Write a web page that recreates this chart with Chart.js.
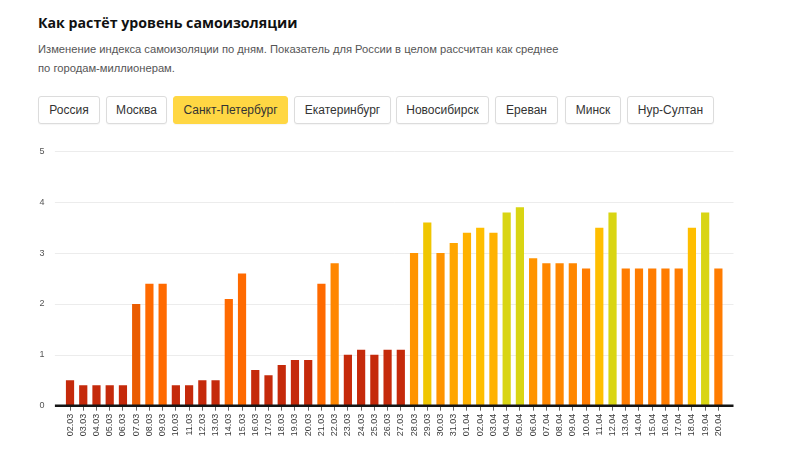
<!DOCTYPE html>
<html lang="ru">
<head>
<meta charset="utf-8">
<script src="https://cdn.jsdelivr.net/npm/chart.js@4.4.1/dist/chart.umd.min.js"></script>
<style>
  html, body { margin: 0; padding: 0; background: #fff; }
  body { width: 800px; height: 450px; position: relative; overflow: hidden; font-family: "Open Sans", "Noto Sans", sans-serif; }
  #title { position: absolute; left: 38px; top: 13px; font-size: 14.2px; font-weight: 700; color: #111; white-space: nowrap; }
  #sub { position: absolute; left: 38px; top: 40px; font-family: "Liberation Sans", Arial, sans-serif; font-size: 11.2px; line-height: 19px; color: #555; white-space: nowrap; }
  .btn { position: absolute; top: 96px; height: 28px; box-sizing: border-box; border: 1px solid #dcdcdc; border-radius: 3px; background: #fff; font-family: "Liberation Sans", Arial, sans-serif; font-size: 12px; color: #333; display: flex; align-items: center; justify-content: center; white-space: nowrap; box-shadow: 0 1px 1px rgba(0,0,0,0.04); }
  .btn.active { background: #ffd743; border-color: #ffd743; }
  #wrap { position: absolute; left: 0; top: 135px; width: 800px; height: 315px; }
</style>
</head>
<body>
<div id="title">Как растёт уровень самоизоляции</div>
<div id="sub">Изменение индекса самоизоляции по дням. Показатель для России в целом рассчитан как среднее<br>по городам-миллионерам.</div>
<div id="buttons"></div>
<div id="wrap"><canvas id="c"></canvas></div>
<script>
const cities = ["Россия", "Москва", "Санкт-Петербург", "Екатеринбург", "Новосибирск", "Ереван", "Минск", "Нур-Султан"];
const activeCity = "Санкт-Петербург";

const dates = [
  "02.03","03.03","04.03","05.03","06.03","07.03","08.03","09.03","10.03","11.03",
  "12.03","13.03","14.03","15.03","16.03","17.03","18.03","19.03","20.03","21.03",
  "22.03","23.03","24.03","25.03","26.03","27.03","28.03","29.03","30.03","31.03",
  "01.04","02.04","03.04","04.04","05.04","06.04","07.04","08.04","09.04","10.04",
  "11.04","12.04","13.04","14.04","15.04","16.04","17.04","18.04","19.04","20.04"
];
const index = [
  0.5, 0.4, 0.4, 0.4, 0.4, 2.0, 2.4, 2.4, 0.4, 0.4,
  0.5, 0.5, 2.1, 2.6, 0.7, 0.6, 0.8, 0.9, 0.9, 2.4,
  2.8, 1.0, 1.1, 1.0, 1.1, 1.1, 3.0, 3.6, 3.0, 3.2,
  3.4, 3.5, 3.4, 3.8, 3.9, 2.9, 2.8, 2.8, 2.8, 2.7,
  3.5, 3.8, 2.7, 2.7, 2.7, 2.7, 2.7, 3.5, 3.8, 2.7
];
const yTicks = [0, 1, 2, 3, 4, 5];

// buttons
const btnBox = [[38,100],[106,167],[173,288],[294,391],[396,489],[495,558],[565,621],[627,714]];
const bc = document.getElementById('buttons');
cities.forEach((name, i) => {
  const d = document.createElement('div');
  d.className = 'btn' + (name === activeCity ? ' active' : '');
  d.style.left = btnBox[i][0] + 'px';
  d.style.width = (btnBox[i][1] - btnBox[i][0]) + 'px';
  d.textContent = name;
  bc.appendChild(d);
});

function colorFor(v) {
  if (v < 1.5) return '#c52a0b';
  if (v < 2.05) return '#ea5c00';
  if (v < 2.65) return '#ff6a00';
  if (v < 2.75) return '#ff7c00';
  if (v < 2.85) return '#ff8700';
  if (v < 3.1) return '#ff9400';
  if (v < 3.3) return '#ffa600';
  if (v < 3.45) return '#ffb200';
  if (v < 3.55) return '#ffbe00';
  if (v < 3.7) return '#f0c600';
  return '#d9d513';
}

const gridPlugin = {
  id: 'grid',
  beforeDatasetsDraw(chart) {
    const {ctx, chartArea, scales} = chart;
    const y = scales.y;
    ctx.save();
    ctx.strokeStyle = '#ececec';
    ctx.lineWidth = 1;
    yTicks.forEach(t => {
      if (t === 0) return;
      const py = Math.round(y.getPixelForValue(t)) + 0.5;
      ctx.beginPath();
      ctx.moveTo(chartArea.left - 8.5, py);
      ctx.lineTo(chartArea.right + 8.5, py);
      ctx.stroke();
    });
    ctx.restore();
  },
  afterDatasetsDraw(chart) {
    const {ctx, chartArea, scales} = chart;
    const py = scales.y.getPixelForValue(0);
    ctx.save();
    ctx.strokeStyle = '#151515';
    ctx.lineWidth = 2.5;
    ctx.beginPath();
    ctx.moveTo(chartArea.left - 8.5, py);
    ctx.lineTo(chartArea.right + 8.5, py);
    ctx.stroke();
    ctx.restore();
  }
};

new Chart(document.getElementById('c'), {
  type: 'bar',
  data: {
    labels: dates,
    datasets: [{
      data: index,
      backgroundColor: index.map(colorFor),
      borderWidth: 0,
      categoryPercentage: 1.0,
      barPercentage: 0.62
    }]
  },
  options: {
    responsive: true,
    maintainAspectRatio: false,
    animation: false,
    layout: { padding: { top: 7, right: 75, left: 0, bottom: 0 } },
    plugins: { legend: { display: false }, tooltip: { enabled: false } },
    scales: {
      x: {
        offset: true,
        grid: { display: true, drawOnChartArea: false, offset: false, tickLength: 5, color: '#666', tickWidth: 1 },
        border: { display: false },
        ticks: { autoSkip: false, maxRotation: 90, minRotation: 90, padding: 3, color: '#3a3a3a', font: { family: 'Liberation Sans, Arial, sans-serif', size: 9 } },
        afterFit(s) { s.height = 44.3; }
      },
      y: {
        min: 0, max: 5,
        afterBuildTicks(s) { s.ticks = yTicks.map(v => ({ value: v })); },
        grid: { display: false },
        border: { display: false },
        ticks: { padding: 11, color: '#555', font: { family: 'Liberation Sans, Arial, sans-serif', size: 9 } },
        afterFit(s) { s.width = 63.4; }
      }
    }
  },
  plugins: [gridPlugin]
});
</script>
</body>
</html>
